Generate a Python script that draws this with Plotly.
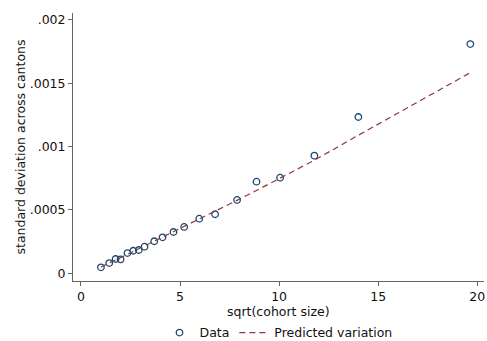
import plotly.graph_objects as go

sqrt_size = [1.01, 1.43, 1.75, 2.0, 2.35, 2.64, 2.92, 3.21, 3.70, 4.12, 4.67, 5.21,
             5.97, 6.77, 7.88, 8.86, 10.05, 11.78, 14.0, 19.65]
sd_data = [0.000047, 0.000081, 0.000113, 0.000110, 0.000160, 0.000178, 0.000184,
           0.000210, 0.000253, 0.000284, 0.000326, 0.000366, 0.000431, 0.000466,
           0.000579, 0.000723, 0.000755, 0.000929, 0.001234, 0.001810]
sd_pred = [0.000050, 0.000080, 0.000105, 0.000125, 0.000150, 0.000172, 0.000194,
           0.000216, 0.000253, 0.000285, 0.000327, 0.000368, 0.000427, 0.000489,
           0.000576, 0.000654, 0.000750, 0.000893, 0.001090, 0.001584]

y_ticks = [0, 0.0005, 0.001, 0.0015, 0.002]
y_labels = ["0", ".0005", ".001", ".0015", ".002"]
x_ticks = [0, 5, 10, 15, 20]
x_title = "sqrt(cohort size)"
y_title = "standard deviation across cantons"

navy = "#1a476f"
maroon = "#90353b"
FS = 12.5

fig = go.Figure()
fig.add_trace(go.Scatter(
    x=sqrt_size, y=sd_data, mode="markers", name="Data",
    marker=dict(symbol="circle-open", size=6.5, color=navy, line=dict(width=1.3, color=navy)),
))
fig.add_trace(go.Scatter(
    x=sqrt_size, y=sd_pred, mode="lines", name="Predicted variation",
    line=dict(color=maroon, width=1.2, dash="6px,4px"),
))

axis_common = dict(
    showgrid=False, zeroline=False, showline=True, linecolor="#666666", linewidth=1,
    ticks="outside", ticklen=4, tickcolor="#666666", tickwidth=1,
    tickfont=dict(family="DejaVu Sans", size=FS, color="#111111"),
)
fig.update_layout(
    width=487, height=341,
    margin=dict(l=73, r=3, t=13, b=60, autoexpand=False),
    paper_bgcolor="white", plot_bgcolor="white",
    font=dict(family="DejaVu Sans", size=FS, color="#111111"),
    showlegend=True,
    legend=dict(orientation="h", x=0.50, xanchor="center", y=-0.194, yanchor="middle",
                font=dict(family="DejaVu Sans", size=FS), itemwidth=30),
    xaxis=dict(range=[-0.40, 20.34], tickvals=x_ticks, automargin=False, **axis_common),
    yaxis=dict(range=[-0.0000608, 0.002055], tickvals=y_ticks, ticktext=y_labels,
               automargin=False,
               title=dict(text=y_title, standoff=1,
                          font=dict(family="DejaVu Sans", size=FS)),
               **axis_common),
    annotations=[dict(text=x_title, xref="x domain", yref="paper", x=0.5, y=-0.115,
                      xanchor="center", yanchor="middle", showarrow=False,
                      font=dict(family="DejaVu Sans", size=FS, color="#111111"))],
)
fig.write_html("out.html")
